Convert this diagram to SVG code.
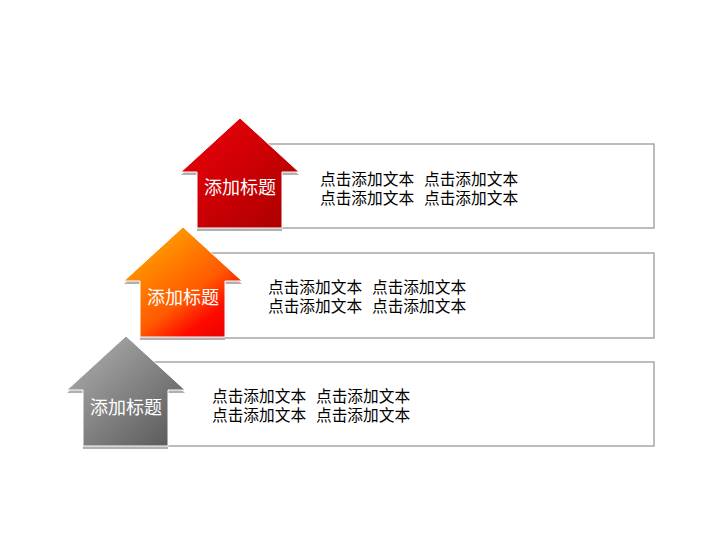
<svg xmlns="http://www.w3.org/2000/svg" width="720" height="540" viewBox="0 0 720 540">
<defs>
<style>
.box{fill:#fff;stroke:#a6a6a6;stroke-width:1.5}
.shadow{fill:#b0b0b0}
.arrow{stroke:#fff;stroke-width:1}
.title{font-family:"Liberation Sans","Noto Sans CJK SC",sans-serif;font-size:18px;fill:#fff;text-anchor:middle}
.body{font-family:"Liberation Sans","Noto Sans CJK SC",sans-serif;font-size:15.7px;fill:#000}
</style>
<linearGradient id="gRed" x1="0" y1="0" x2="1" y2="1">
<stop offset="0" stop-color="#f0000a"/>
<stop offset="1" stop-color="#a80000"/>
</linearGradient>
<linearGradient id="gOrange" x1="0.1" y1="0" x2="0.9" y2="1">
<stop offset="0" stop-color="#ffb000"/>
<stop offset="0.6" stop-color="#ff5a00"/>
<stop offset="0.8" stop-color="#ff0a00"/>
<stop offset="1" stop-color="#e80000"/>
</linearGradient>
<linearGradient id="gGrey" x1="0" y1="0" x2="1" y2="1">
<stop offset="0" stop-color="#b4b4b4"/>
<stop offset="1" stop-color="#555555"/>
</linearGradient>
<path id="arrowShape" d="M0,0 L59,54 L42,54 L42,110 L-43,110 L-43,54 L-59,54 Z"/>
</defs>
<rect width="720" height="540" fill="#fff"/>

<g id="row3">
<rect class="box" x="120" y="362" width="534" height="84"/>
<text class="body" y="402"><tspan x="212">点击添加文本</tspan><tspan x="316">点击添加文本</tspan></text>
<text class="body" y="421"><tspan x="212">点击添加文本</tspan><tspan x="316">点击添加文本</tspan></text>
</g>
<g id="node3" transform="translate(126,336)">
<use href="#arrowShape" class="shadow" transform="translate(0,3)"/>
<use href="#arrowShape" class="arrow" fill="url(#gGrey)"/>
<text class="title" x="0" y="78">添加标题</text>
</g>

<g id="row2">
<rect class="box" x="177" y="253" width="477" height="85"/>
<text class="body" y="293"><tspan x="268">点击添加文本</tspan><tspan x="372">点击添加文本</tspan></text>
<text class="body" y="312"><tspan x="268">点击添加文本</tspan><tspan x="372">点击添加文本</tspan></text>
</g>
<g id="node2" transform="translate(183,227)">
<use href="#arrowShape" class="shadow" transform="translate(0,3)"/>
<use href="#arrowShape" class="arrow" fill="url(#gOrange)"/>
<text class="title" x="0" y="77">添加标题</text>
</g>

<g id="row1">
<rect class="box" x="234" y="144" width="420" height="84"/>
<text class="body" y="185"><tspan x="320">点击添加文本</tspan><tspan x="424">点击添加文本</tspan></text>
<text class="body" y="204"><tspan x="320">点击添加文本</tspan><tspan x="424">点击添加文本</tspan></text>
</g>
<g id="node1" transform="translate(240,118)">
<use href="#arrowShape" class="shadow" transform="translate(0,3)"/>
<use href="#arrowShape" class="arrow" fill="url(#gRed)"/>
<text class="title" x="0" y="76">添加标题</text>
</g>
<g id="connectors"/>
</svg>
